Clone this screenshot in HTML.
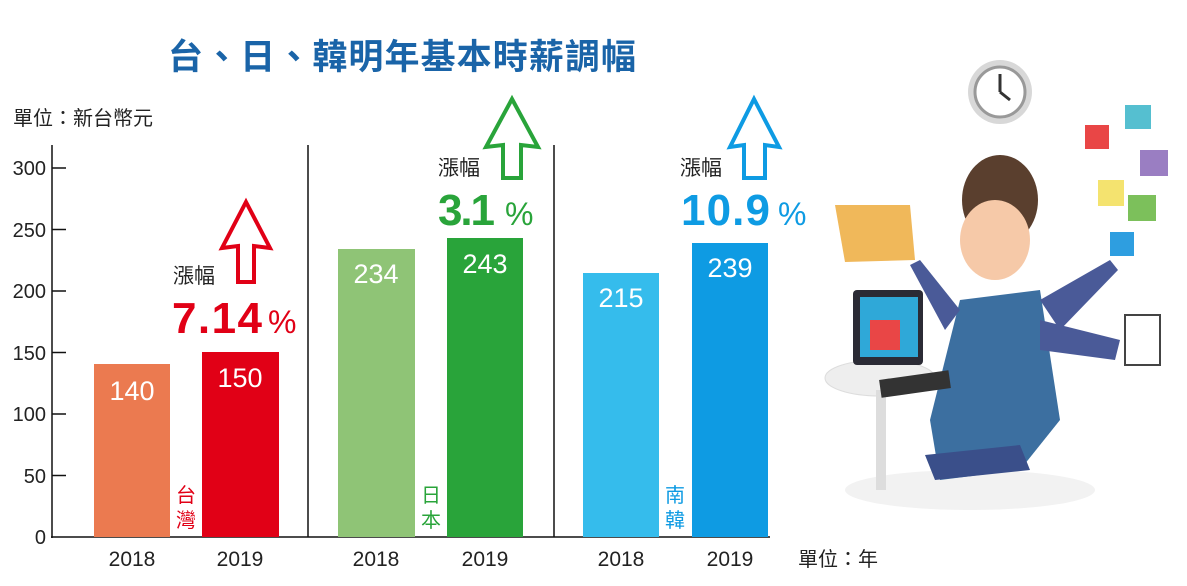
<!DOCTYPE html>
<html><head><meta charset="utf-8"><style>
body{margin:0;background:#fff;}
svg text{font-family:"Liberation Sans","Noto Sans CJK TC",sans-serif;}
</style></head><body>
<svg width="1187" height="581" viewBox="0 0 1187 581" xmlns="http://www.w3.org/2000/svg">
<text x="168" y="69" font-size="35" font-weight="bold" fill="#1a64a8" textLength="468" style="font-family:'Noto Sans CJK TC',sans-serif">台、日、韓明年基本時薪調幅</text>
<text x="13" y="125" font-size="20" fill="#222" style="font-family:'Noto Sans CJK TC',sans-serif">單位：新台幣元</text>
<text x="798" y="566" font-size="20" fill="#222" style="font-family:'Noto Sans CJK TC',sans-serif">單位：年</text>
<g stroke="#111" stroke-width="1.5">
<line x1="52" y1="145" x2="52" y2="538"/>
<line x1="51" y1="537" x2="770" y2="537"/>
<line x1="308" y1="145" x2="308" y2="537"/>
<line x1="554" y1="145" x2="554" y2="537"/>
<line x1="52" y1="168" x2="66" y2="168"/>
<line x1="52" y1="229.5" x2="66" y2="229.5"/>
<line x1="52" y1="291" x2="66" y2="291"/>
<line x1="52" y1="352.5" x2="66" y2="352.5"/>
<line x1="52" y1="414" x2="66" y2="414"/>
<line x1="52" y1="475.5" x2="66" y2="475.5"/>
</g>
<g font-size="20" fill="#222" text-anchor="end">
<text x="46" y="175">300</text><text x="46" y="237">250</text><text x="46" y="298">200</text>
<text x="46" y="360">150</text><text x="46" y="421">100</text><text x="46" y="483">50</text><text x="46" y="544">0</text>
</g>
<rect x="94" y="364" width="76" height="173" fill="#eb7a50"/>
<rect x="202" y="352" width="77" height="185" fill="#e10016"/>
<rect x="338" y="249" width="77" height="288" fill="#8fc476"/>
<rect x="447" y="238" width="76" height="299" fill="#29a43a"/>
<rect x="583" y="273" width="76" height="264" fill="#35bcec"/>
<rect x="692" y="243" width="76" height="294" fill="#0e9be3"/>
<g font-size="27" fill="#fff" text-anchor="middle" style="font-family:'Liberation Sans Narrow','Liberation Sans',sans-serif">
<text x="132" y="400">140</text><text x="240" y="387">150</text>
<text x="376" y="283">234</text><text x="485" y="273">243</text>
<text x="621" y="307">215</text><text x="730" y="277">239</text>
</g>
<g font-size="21" fill="#222" text-anchor="middle">
<text x="132" y="566">2018</text><text x="240" y="566">2019</text>
<text x="376" y="566">2018</text><text x="485" y="566">2019</text>
<text x="621" y="566">2018</text><text x="730" y="566">2019</text>
</g>
<g font-size="20" text-anchor="middle" style="font-family:'Noto Sans CJK TC',sans-serif">
<text x="186" y="502" fill="#e10016">台</text><text x="186" y="527" fill="#e10016">灣</text>
<text x="431" y="502" fill="#29a43a">日</text><text x="431" y="527" fill="#29a43a">本</text>
<text x="675" y="502" fill="#0e9be3">南</text><text x="675" y="527" fill="#0e9be3">韓</text>
</g>
<path d="M246,202 L270,248 L254,246 L254,282 L238,282 L238,246 L222,248 Z" fill="none" stroke="#e10016" stroke-width="4"/>
<path d="M512,99 L538,147 L521,145 L521,178 L503,178 L503,145 L486,147 Z" fill="none" stroke="#29a43a" stroke-width="4"/>
<path d="M754,99 L779,147 L765,145 L765,178 L744,178 L744,145 L730,147 Z" fill="none" stroke="#0e9be3" stroke-width="4"/>
<g font-size="21" fill="#222" style="font-family:'Noto Sans CJK TC',sans-serif">
<text x="173" y="283">漲幅</text><text x="438" y="175">漲幅</text><text x="680" y="175">漲幅</text>
</g>
<text x="172" y="333" font-size="44" font-weight="bold" fill="#e10016" textLength="90">7.14</text>
<text x="268" y="333" font-size="32" fill="#e10016">%</text>
<text x="438" y="225" font-size="44" font-weight="bold" fill="#29a43a" textLength="57">3.1</text>
<text x="505" y="225" font-size="32" fill="#29a43a">%</text>
<text x="681" y="225" font-size="44" font-weight="bold" fill="#0e9be3" textLength="89">10.9</text>
<text x="778" y="225" font-size="32" fill="#0e9be3">%</text>
<ellipse cx="970" cy="490" rx="125" ry="20" fill="#f2f2f2"/>
<circle cx="1000" cy="92" r="32" fill="#d8d8d8"/><circle cx="1000" cy="92" r="25" fill="#fff" stroke="#999" stroke-width="3"/>
<line x1="1000" y1="92" x2="1000" y2="74" stroke="#333" stroke-width="3"/><line x1="1000" y1="92" x2="1010" y2="100" stroke="#333" stroke-width="3"/>
<rect x="1085" y="125" width="24" height="24" fill="#e94646"/><rect x="1125" y="105" width="26" height="24" fill="#55bfd0"/>
<rect x="1140" y="150" width="28" height="26" fill="#9a7ec2"/><rect x="1098" y="180" width="26" height="26" fill="#f4e36f"/>
<rect x="1128" y="195" width="28" height="26" fill="#7cc05b"/><rect x="1110" y="232" width="24" height="24" fill="#2e9ee0"/>
<path d="M835,205 L910,205 L915,260 L845,262 Z" fill="#f0b85a"/>
<ellipse cx="880" cy="378" rx="55" ry="18" fill="#eee" stroke="#ddd"/>
<rect x="876" y="390" width="10" height="100" fill="#ddd"/>
<rect x="853" y="290" width="70" height="75" rx="4" fill="#2b2b35"/><rect x="860" y="297" width="58" height="60" fill="#2fa8d8"/>
<rect x="870" y="320" width="30" height="30" fill="#e94646"/>
<ellipse cx="1000" cy="200" rx="38" ry="45" fill="#5a3f2e"/>
<ellipse cx="995" cy="240" rx="35" ry="40" fill="#f6c9a8"/>
<path d="M960,300 L1040,290 L1060,420 L1020,470 L940,480 L930,420 Z" fill="#3c6fa0"/>
<path d="M1040,300 L1110,260 L1118,270 L1060,330 Z" fill="#4a5a98"/>
<path d="M1040,320 L1120,340 L1115,360 L1040,350 Z" fill="#4a5a98"/>
<path d="M960,310 L920,260 L910,265 L945,330 Z" fill="#4a5a98"/>
<rect x="1125" y="315" width="35" height="50" fill="#fff" stroke="#444" stroke-width="2"/>
<path d="M925,455 L1020,445 L1030,470 L935,480 Z" fill="#3a4f8a"/>
<rect x="880" y="375" width="70" height="18" fill="#333" transform="rotate(-8 915 384)"/>
</svg>
</body></html>
